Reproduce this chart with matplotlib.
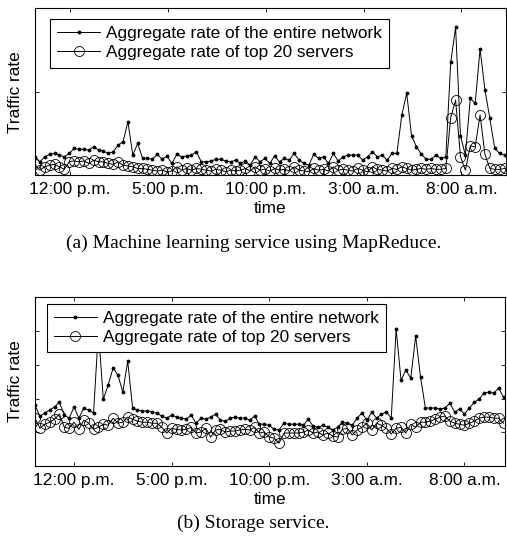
import numpy as np
import matplotlib
matplotlib.use("Agg")
import matplotlib.pyplot as plt

plt.rcParams['font.family'] = ['Liberation Sans', 'DejaVu Sans']

# sample index, one sample every 15 minutes over one day
n_samples = 97
tick_labels = ['12:00 p.m.', '5:00 p.m.', '10:00 p.m.', '3:00 a.m.', '8:00 a.m.']
ticks_a = [7.17, 27.17, 47.17, 67.17, 87.17]
ticks_b = [8, 28, 48, 68, 88]

# (a) machine learning service using MapReduce
ml_network = [0.22, 0.16, 0.22, 0.25, 0.26, 0.24, 0.22, 0.26, 0.32, 0.31,
              0.31, 0.30, 0.34, 0.30, 0.29, 0.26, 0.28, 0.36, 0.40, 0.64,
              0.24, 0.38, 0.20, 0.20, 0.19, 0.25, 0.19, 0.23, 0.14, 0.25,
              0.22, 0.23, 0.24, 0.28, 0.16, 0.16, 0.17, 0.19, 0.19, 0.17,
              0.16, 0.18, 0.14, 0.17, 0.12, 0.22, 0.16, 0.20, 0.14, 0.23,
              0.16, 0.20, 0.18, 0.26, 0.18, 0.14, 0.12, 0.25, 0.20, 0.22,
              0.14, 0.26, 0.17, 0.22, 0.24, 0.24, 0.24, 0.18, 0.22, 0.28,
              0.22, 0.24, 0.18, 0.26, 0.26, 0.72, 0.98, 0.47, 0.34, 0.25,
              0.19, 0.19, 0.24, 0.20, 0.22, 1.35, 1.77, 0.47, 0.24, 0.92,
              0.86, 1.51, 1.02, 0.68, 0.32, 0.26, 0.24]
ml_top20 = [0.13, 0.06, 0.10, 0.12, 0.13, 0.10, 0.07, 0.16, 0.17, 0.16,
            0.17, 0.14, 0.18, 0.16, 0.16, 0.14, 0.13, 0.16, 0.12, 0.11,
            0.10, 0.08, 0.08, 0.07, 0.06, 0.05, 0.06, 0.04, 0.05, 0.10,
            0.06, 0.08, 0.06, 0.08, 0.07, 0.06, 0.05, 0.07, 0.06, 0.04,
            0.06, 0.05, 0.06, 0.08, 0.05, 0.10, 0.06, 0.07, 0.05, 0.08,
            0.06, 0.07, 0.05, 0.10, 0.06, 0.05, 0.04, 0.08, 0.06, 0.07,
            0.05, 0.10, 0.06, 0.07, 0.06, 0.05, 0.08, 0.06, 0.04, 0.10,
            0.07, 0.06, 0.05, 0.08, 0.07, 0.10, 0.08, 0.06, 0.07, 0.08,
            0.07, 0.08, 0.07, 0.07, 0.08, 0.69, 0.90, 0.22, 0.06, 0.35,
            0.34, 0.72, 0.25, 0.08, 0.07, 0.07, 0.08]

# (b) storage service
st_network = [1.80, 1.48, 1.57, 1.66, 1.75, 1.89, 1.51, 1.42, 1.75, 1.42,
              1.72, 1.66, 1.57, 4.00, 1.98, 2.40, 2.90, 2.69, 2.19, 3.11,
              1.72, 1.66, 1.63, 1.63, 1.60, 1.57, 1.48, 1.42, 1.51, 1.45,
              1.42, 1.39, 1.51, 1.27, 1.42, 1.39, 1.45, 1.54, 1.36, 1.33,
              1.42, 1.45, 1.42, 1.42, 1.36, 1.48, 1.24, 1.24, 1.21, 1.09,
              1.07, 1.27, 1.24, 1.24, 1.24, 1.21, 1.39, 1.18, 1.15, 1.21,
              1.15, 1.07, 1.15, 1.30, 1.27, 1.21, 1.42, 1.57, 1.36, 1.60,
              1.42, 1.54, 1.60, 1.42, 4.05, 2.54, 2.84, 2.60, 3.85, 2.63,
              1.72, 1.72, 1.72, 1.69, 1.72, 1.86, 1.60, 1.69, 1.54, 1.72,
              1.89, 1.98, 2.16, 2.19, 2.16, 2.31, 2.04]
st_top20 = [1.42, 1.12, 1.24, 1.30, 1.39, 1.54, 1.15, 1.12, 1.30, 1.09,
            1.36, 1.27, 1.09, 1.15, 1.24, 1.21, 1.42, 1.27, 1.30, 1.45,
            1.39, 1.33, 1.30, 1.30, 1.27, 1.27, 1.15, 0.98, 1.12, 1.09,
            1.07, 1.09, 1.15, 0.98, 1.01, 1.12, 0.86, 1.07, 1.09, 1.01,
            1.04, 1.04, 1.07, 1.09, 1.07, 1.15, 0.98, 1.01, 0.86, 0.83,
            0.68, 0.98, 0.98, 0.98, 0.98, 1.01, 1.07, 0.98, 1.01, 0.92,
            0.98, 0.89, 0.86, 1.09, 1.12, 0.92, 1.07, 1.15, 1.27, 1.07,
            1.27, 1.21, 1.12, 0.95, 1.12, 1.15, 0.98, 1.24, 1.15, 1.30,
            1.30, 1.33, 1.39, 1.45, 1.48, 1.33, 1.27, 1.24, 1.21, 1.27,
            1.33, 1.42, 1.45, 1.45, 1.42, 1.42, 1.27]

labels = ['Aggregate rate of the entire network', 'Aggregate rate of top 20 servers']

x = np.arange(n_samples)

fig = plt.figure(figsize=(5.07, 5.44), dpi=100)
ax1 = fig.add_axes([0.069, 0.678, 0.929, 0.307])
ax2 = fig.add_axes([0.069, 0.143, 0.927, 0.311])


def draw(ax, net, top, ticks, ymax, yticks, legend_xy):
    ax.plot(x, net, '-', color='k', lw=0.7, marker='.', ms=3.5, label=labels[0])
    ax.plot(x, top, '-', color='k', lw=0.7, marker='o', ms=7.2, mfc='none',
            mew=0.6, label=labels[1])
    ax.set_xlim(0, 96.3)
    ax.set_ylim(0, ymax)
    ax.set_xticks(ticks)
    ax.set_xticklabels(tick_labels, fontsize=12.4)
    ax.set_yticks(yticks)
    ax.set_yticklabels([])
    ax.tick_params(direction='in', length=3, width=0.6, top=True, right=True, pad=5)
    for s in ax.spines.values():
        s.set_linewidth(0.8)
    ax.set_xlabel('time', fontsize=12.4, labelpad=2.5)
    ax.set_ylabel('Traffic rate', fontsize=12.4)
    ax.yaxis.set_label_coords(-0.026, 0.5)
    leg = ax.legend(loc='upper left', bbox_to_anchor=legend_xy, borderaxespad=0,
                    prop={'size': 12.4}, fancybox=False, framealpha=1, edgecolor='k',
                    handlelength=2.5, handletextpad=0.35, borderpad=0.42,
                    labelspacing=0.22)
    leg.get_frame().set_linewidth(0.8)


draw(ax1, ml_network, ml_top20, ticks_a, 2.0, [1], (0.032, 0.934))
draw(ax2, st_network, st_top20, ticks_b, 5.0, [1, 2, 3, 4], (0.025, 0.959))

fig.text(0.5, 1 - 243 / 544, '(a) Machine learning service using MapReduce.',
         ha='center', va='center', fontsize=14, family='Liberation Serif')
fig.text(0.5, 1 - 523 / 544, '(b) Storage service.',
         ha='center', va='center', fontsize=14, family='Liberation Serif')

fig.savefig('out.png', dpi=100)
